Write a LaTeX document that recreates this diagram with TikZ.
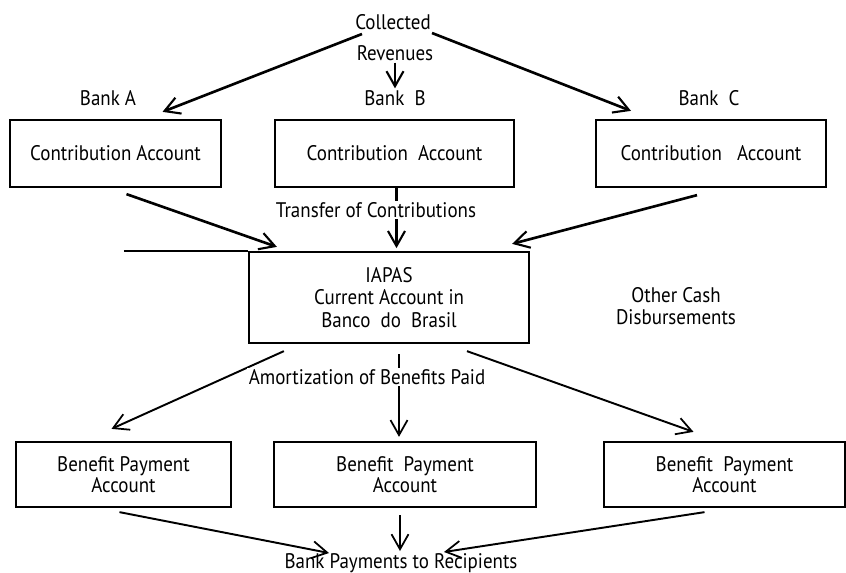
\documentclass[tikz,border=0pt]{standalone}
\usepackage{fontspec}
\setmainfont{PT Sans}[FakeStretch=0.9]
\usepackage{tikz}
\usetikzlibrary{arrows.meta,positioning,calc}
\tikzset{
  box/.style={draw, line width=1.3pt, align=center, inner sep=2pt,
              font=\fontsize{12}{13.6}\selectfont},
  lbl/.style={align=center, inner sep=1pt, font=\fontsize{12}{13.6}\selectfont},
  flow/.style={-{Straight Barb[length=3mm, width=3.4mm, line width=1.2pt]}, line width=1.5pt},
  thinflow/.style={-{Straight Barb[length=3mm, width=3.4mm, line width=1pt]}, line width=1.1pt},
}

\begin{document}
\begin{tikzpicture}[x=0.02cm, y=-0.02cm]
\useasboundingbox (0,0) rectangle (846,572);
% sources
\node[lbl] (coll) at (393,22) {Collected};
\node[lbl] (rev) at (395,53) {Revenues};
\node[lbl] (bankA) at (108,98) {Bank A};
\node[lbl] (bankB) at (395,98) {Bank\ \ B};
\node[lbl] (bankC) at (709,98) {Bank\ \ C};
\node[box, minimum width=4.22cm, minimum height=1.34cm] (contA) at (115.5,153.5) {Contribution Account};
\node[box, minimum width=4.78cm, minimum height=1.34cm] (contB) at (394.5,153.5) {Contribution\ \ Account};
\node[box, minimum width=4.6cm, minimum height=1.34cm] (contC) at (711,153.5) {Contribution\ \ \ Account};
\draw[flow] ($(coll)+(-31,12)$) -- ($(contA.north)+(47,-7)$);
\draw[flow] ($(coll)+(39,11)$) -- ($(contC.north)+(-80,-8)$);
\draw[flow] (rev.south) -- (bankB.north);
% central account
\node[box, minimum width=5.6cm, minimum height=1.82cm] (iapas) at (389,297.5)
  {IAPAS\\[-1pt]Current\ Account\ in\\[-1pt]Banco\ \ do\ \ Brasil};
\coordinate (ruleL) at ($(iapas.north west)+(-124,0)$);
\draw[line width=1.3pt] (ruleL) -- (iapas.north west);
\node[lbl] (other) at (676,306) {Other Cash\\[-1pt]Disbursements};
\draw[flow] ($(contA.south)+(11,6)$) -- ($(iapas.north west)+(29,-4)$);
\draw[flow] ($(contB.south)+(2,0)$) -- ($(contB.south)+(2,60)$);
\draw[flow] ($(contC.south)+(-14,7)$) -- ($(iapas.north east)+(-18,-7)$);
\node[lbl, fill=white] (transfer) at (376,210) {Transfer of Contributions};
% benefit accounts
\node[box, minimum width=4.3cm, minimum height=1.3cm] (ben1) at (123.5,474.5) {Benefit Payment\\[-2pt]Account};
\node[box, minimum width=5.24cm, minimum height=1.3cm] (ben2) at (405,474.5) {Benefit\ \ Payment\\[-2pt]Account};
\node[box, minimum width=4.82cm, minimum height=1.3cm] (ben3) at (724.5,474.5) {Benefit\ \ Payment\\[-2pt]Account};
\draw[thinflow] ($(iapas.south west)+(36,7)$) -- ($(ben1.north)+(-12,-12)$);
\draw[thinflow] ($(iapas.south)+(10,10)$) -- ($(ben2.north)+(-6,-4)$);
\draw[thinflow] ($(iapas.south)+(78,7)$) -- ($(ben3.north)+(-31,-9)$);
\node[lbl, fill=white] (amort) at (367,377) {Amortization of Benefits Paid};
% payments
\node[lbl] (pay) at (401,563) {Bank Payments to Recipients};
\draw[thinflow] ($(ben1.south)+(-4,4)$) -- ($(pay)+(-72,-10)$);
\draw[thinflow] ($(ben2.south)+(-5,7)$) -- ($(pay)+(-1,-12)$);
\draw[thinflow] ($(ben3.south)+(-20,4)$) -- ($(pay)+(43,-11)$);
\end{tikzpicture}
\end{document}
